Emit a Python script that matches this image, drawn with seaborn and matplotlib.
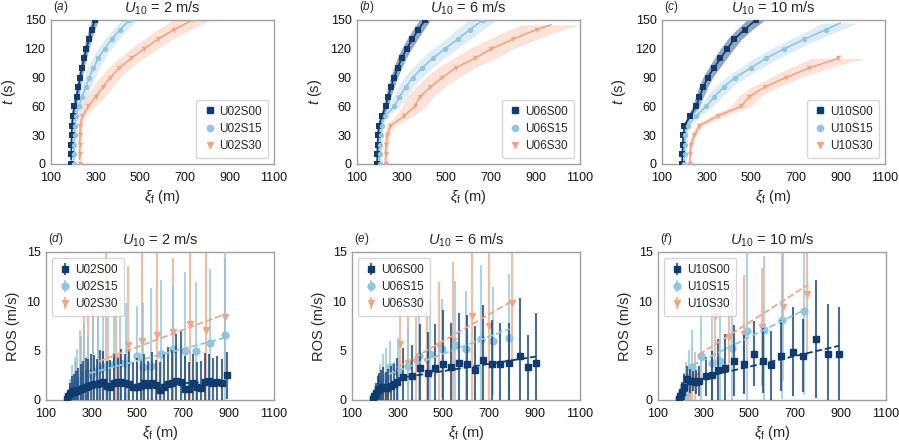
import numpy as np
import pandas as pd
import seaborn as sns
import matplotlib.pyplot as plt
from matplotlib.lines import Line2D

# ---- colours / names ----
colors = ["#0f3b6f", "#92c5de", "#f4a582"]
markers = ["s", "o", "v"]
winds = [2, 6, 10]
cases = [["U02S00", "U02S15", "U02S30"],
         ["U06S00", "U06S15", "U06S30"],
         ["U10S00", "U10S15", "U10S30"]]

# ---- top row: front position vs time (mean and spread) ----
t16 = [0, 10, 20, 30, 40, 50, 60, 70, 80, 90, 100, 110, 120, 130, 140, 150]

a00_t = t16
a00_x = [190, 190, 191, 192, 194, 197, 205, 215, 222, 230, 238, 248, 258, 270, 282, 298]
a00_w = [3, 3, 3, 4, 5, 6, 8, 9, 9, 10, 10, 11, 12, 13, 14, 16]
a15_t = t16
a15_x = [203, 203, 204, 206, 208, 212, 225, 240, 255, 272, 290, 312, 340, 372, 410, 452]
a15_w = [5, 5, 5, 6, 7, 10, 18, 25, 25, 26, 27, 28, 30, 32, 32, 35]
a30_t = t16
a30_x = [228, 228, 229, 230, 231, 240, 268, 300, 332, 365, 405, 460, 518, 580, 652, 734]
a30_w = [8, 8, 8, 8, 10, 15, 30, 40, 45, 48, 50, 55, 60, 65, 75, 85]

b00_t = t16
b00_x = [190, 191, 192, 194, 197, 212, 228, 240, 252, 266, 282, 300, 322, 348, 375, 405]
b00_w = [3, 3, 4, 4, 5, 8, 12, 12, 14, 16, 18, 20, 22, 24, 25, 25]
b15_t = t16
b15_x = [202, 203, 204, 206, 210, 225, 268, 290, 318, 350, 392, 440, 494, 552, 606, 665]
b15_w = [5, 5, 6, 6, 8, 12, 25, 30, 35, 40, 45, 50, 55, 55, 60, 60]
b30_t = [0, 10, 20, 30, 40, 50, 60, 70, 80, 90, 100, 110, 120, 130, 140, 145]
b30_x = [228, 229, 230, 235, 250, 312, 358, 382, 428, 482, 542, 628, 703, 800, 905, 970]
b30_w = [8, 8, 10, 12, 20, 40, 55, 60, 65, 75, 85, 95, 100, 110, 120, 130]

c00_t = t16
c00_x = [190, 191, 193, 195, 200, 225, 252, 268, 285, 305, 333, 362, 392, 425, 470, 520]
c00_w = [3, 3, 4, 5, 6, 10, 15, 18, 20, 22, 25, 28, 30, 32, 35, 40]
c15_t = [0, 10, 20, 30, 40, 50, 60, 70, 80, 90, 100, 110, 120, 130, 140, 147]
c15_x = [200, 201, 203, 205, 215, 252, 298, 335, 376, 428, 498, 566, 648, 738, 835, 900]
c15_w = [5, 5, 6, 7, 10, 20, 30, 35, 40, 45, 50, 55, 60, 65, 70, 80]
c30_t = [0, 10, 20, 30, 40, 50, 60, 70, 80, 90, 100, 110]
c30_x = [225, 226, 228, 245, 268, 350, 455, 490, 560, 655, 760, 890]
c30_w = [6, 6, 8, 12, 15, 35, 45, 50, 60, 70, 90, 120]

# ---- bottom row: rate of spread vs front position ----
d00_x = [190, 198, 206, 214, 223, 232, 242, 252, 263, 274, 286, 298, 311, 324, 338, 352,
         367, 382, 398, 414, 430, 447, 464, 481, 498, 515, 532, 549, 566, 583, 600, 618,
         636, 654, 672, 690, 708, 726, 744, 762, 780, 798, 816, 834, 852, 870, 895]
d00_v = [0.1, 0.4, 0.7, 0.9, 0.8, 0.9, 1.0, 1.1, 1.2, 1.3, 1.4, 1.5, 1.6, 1.6, 1.7, 1.8,
         1.4, 1.3, 1.7, 1.8, 1.8, 1.7, 1.6, 1.3, 1.3, 1.4, 1.7, 1.5, 1.7, 1.5, 1.0, 1.3,
         1.6, 1.7, 1.9, 1.8, 1.1, 1.1, 1.7, 1.3, 1.2, 1.8, 1.9, 1.7, 1.8, 1.7, 2.5]
d00_e = [0.2, 0.6, 1.0, 1.5, 1.8, 2.0, 2.2, 2.5, 2.8, 3.0, 2.8, 3.2, 3.0, 2.6, 3.4, 3.2,
         2.6, 2.8, 3.0, 2.5, 3.4, 3.0, 3.6, 2.6, 3.0, 2.8, 3.0, 2.5, 3.2, 2.6, 2.9, 3.4,
         3.8, 3.4, 4.8, 5.2, 3.4, 2.8, 3.0, 2.6, 2.8, 3.0, 2.8, 2.6, 2.7, 2.5, 2.4]
d15_x = [196, 205, 215, 226, 238, 252, 268, 286, 305, 326, 348, 372, 398, 424, 452, 497,
         525, 560, 605, 658, 710, 760, 818, 884]
d15_v = [0.3, 0.6, 1.0, 1.4, 1.7, 2.0, 2.2, 2.5, 2.7, 3.0, 3.3, 3.5, 3.6, 3.7, 3.8, 4.5,
         3.3, 3.4, 4.7, 5.2, 5.0, 5.0, 5.8, 6.6]
d15_e = [0.5, 1.5, 2.5, 3.0, 3.5, 4.5, 5.5, 4.0, 6.0, 5.5, 7.5, 6.0, 5.0, 6.5, 6.0, 5.0,
         6.5, 8.0, 7.5, 6.5, 8.0, 7.0, 7.5, 8.5]
d30_x = [215, 232, 250, 268, 285, 305, 330, 365, 405, 460, 522, 585, 655, 730, 800, 885]
d30_v = [0.3, 0.9, 1.6, 2.5, 2.7, 2.8, 2.9, 3.2, 4.2, 5.6, 6.0, 6.6, 6.9, 7.7, 7.1, 8.4]
d30_e = [0.8, 3.0, 5.5, 6.0, 6.0, 7.0, 5.5, 12.5, 6.5, 8.0, 10.0, 9.5, 7.5, 9.0, 10.0, 6.0]

e00_x = [190, 197, 204, 212, 220, 229, 238, 248, 258, 270, 283, 297, 325, 365, 400, 432,
         465, 500, 535, 570, 605, 640, 675, 715, 750, 790, 835, 870, 905]
e00_v = [0.1, 0.4, 0.7, 1.0, 1.1, 1.2, 1.3, 1.2, 1.3, 1.4, 1.6, 1.8, 2.3, 2.4, 3.2, 2.7,
         3.2, 3.6, 3.3, 3.8, 3.6, 3.0, 4.1, 3.6, 3.6, 3.8, 4.5, 3.3, 3.8]
e00_e = [0.2, 0.6, 1.0, 1.4, 1.6, 1.8, 2.0, 1.6, 1.8, 2.0, 2.2, 2.5, 3.0, 3.2, 4.5, 4.2,
         4.5, 5.5, 4.5, 5.0, 5.0, 4.5, 5.5, 4.5, 4.2, 4.0, 5.8, 3.3, 5.0]
e15_x = [194, 202, 212, 222, 234, 248, 268, 300, 345, 395, 440, 495, 550, 600, 665, 720, 790]
e15_v = [0.2, 0.5, 0.9, 1.4, 1.9, 2.3, 3.3, 2.8, 3.4, 4.5, 4.7, 5.2, 5.6, 5.2, 6.2, 6.0, 6.3]
e15_e = [0.4, 1.0, 1.6, 2.2, 2.8, 3.0, 2.7, 3.5, 4.0, 4.5, 5.5, 5.0, 6.5, 5.8, 7.5, 5.5, 6.5]
e30_x = [222, 232, 244, 256, 312, 345, 380, 430, 480, 545, 625, 700, 800]
e30_v = [0.3, 0.7, 1.1, 1.3, 5.7, 3.8, 3.9, 4.0, 5.5, 6.0, 8.5, 7.5, 9.8]
e30_e = [0.6, 1.2, 1.6, 1.8, 3.5, 5.0, 4.5, 5.5, 6.5, 8.0, 8.5, 8.0, 6.5]

f00_x = [190, 197, 205, 215, 228, 242, 255, 268, 280, 310, 335, 362, 395, 435, 475, 520,
         560, 595, 640, 690, 735, 795, 845, 895]
f00_v = [0.1, 0.4, 0.8, 1.3, 2.1, 1.9, 1.9, 1.8, 1.9, 2.4, 2.5, 3.0, 3.2, 4.0, 3.6, 4.7,
         4.0, 3.5, 4.5, 4.9, 4.5, 6.2, 4.7, 4.7]
f00_e = [0.2, 0.6, 1.0, 1.3, 1.3, 1.2, 1.0, 1.2, 1.5, 2.0, 2.5, 3.2, 3.5, 3.6, 3.0, 3.3,
         3.3, 3.5, 3.6, 4.5, 3.7, 6.0, 5.0, 4.7]
f15_x = [194, 202, 212, 224, 236, 250, 290, 335, 370, 425, 490, 565, 645, 740]
f15_v = [0.2, 0.6, 1.1, 1.7, 2.3, 3.3, 4.5, 3.7, 4.0, 5.3, 7.0, 7.1, 8.1, 9.0]
f15_e = [0.4, 1.0, 1.6, 2.2, 2.8, 3.8, 5.5, 6.0, 5.5, 6.5, 9.0, 7.5, 8.0, 8.5]
f30_x = [222, 234, 246, 262, 350, 410, 475, 555, 650, 755]
f30_v = [0.3, 0.8, 1.4, 2.4, 8.5, 6.4, 6.7, 7.4, 9.4, 10.7]
f30_e = [0.5, 1.0, 1.5, 2.5, 4.5, 3.5, 6.0, 6.0, 7.5, 6.2]

# linear fits (end points)
d_fit = [([280, 890], [1.3, 1.9]), ([290, 885], [2.7, 6.3]), ([330, 885], [3.9, 8.7])]
e_fit = [([300, 905], [2.2, 4.4]), ([260, 790], [2.6, 7.2]), ([300, 800], [3.3, 10.0])]
f_fit = [([300, 895], [2.3, 5.5]), ([250, 740], [3.5, 9.1]), ([280, 760], [4.6, 11.7])]

top_data = [
    [(a00_t, a00_x, a00_w), (a15_t, a15_x, a15_w), (a30_t, a30_x, a30_w)],
    [(b00_t, b00_x, b00_w), (b15_t, b15_x, b15_w), (b30_t, b30_x, b30_w)],
    [(c00_t, c00_x, c00_w), (c15_t, c15_x, c15_w), (c30_t, c30_x, c30_w)],
]
bot_data = [
    [(d00_x, d00_v, d00_e), (d15_x, d15_v, d15_e), (d30_x, d30_v, d30_e)],
    [(e00_x, e00_v, e00_e), (e15_x, e15_v, e15_e), (e30_x, e30_v, e30_e)],
    [(f00_x, f00_v, f00_e), (f15_x, f15_v, f15_e), (f30_x, f30_v, f30_e)],
]
fits = [d_fit, e_fit, f_fit]

sns.set_theme(style="white")
plt.rcParams['font.family'] = ['Liberation Sans', 'DejaVu Sans']
plt.rcParams['mathtext.fontset'] = 'custom'
plt.rcParams['mathtext.rm'] = 'Liberation Sans'
plt.rcParams['mathtext.it'] = 'Liberation Sans:italic'
plt.rcParams['mathtext.bf'] = 'Liberation Sans:bold'

W, H = 899, 443
fig = plt.figure(figsize=(W / 100, H / 100), dpi=100)

top_left = [51, 357, 662]
bot_left = [46, 352, 658]


def style_axes(ax):
    for s in ax.spines.values():
        s.set_color("#a0a0a0")
        s.set_linewidth(1.0)
    ax.tick_params(direction="in", length=2.5, width=0.8, color="#a0a0a0",
                   labelsize=9, labelcolor="#111111")
    ax.tick_params(axis="x", pad=6)
    ax.tick_params(axis="y", pad=4)
    ax.set_xlim(100, 1100)
    ax.set_xticks([100, 300, 500, 700, 900, 1100])
    ax.set_xlabel(r"$\xi_{\mathrm{f}}$ (m)", fontsize=10.5, labelpad=3)


labels = ["a", "b", "c", "d", "e", "f"]

for i in range(3):
    # ---- top panels ----
    ax = fig.add_axes([top_left[i] / W, 1 - 164 / H, 223 / W, 144 / H])
    for j in range(3):
        t, x, w = top_data[i][j]
        x = np.array(x, float)
        w = np.array(w, float)
        ax.fill_betweenx(t, x - w, x + w, color=colors[j], alpha=0.3 if j else 0.45,
                         linewidth=0)
    handles = []
    for j in range(3):
        t, x, w = top_data[i][j]
        df = pd.DataFrame({"t": t, "x": x})
        sns.lineplot(data=df, x="x", y="t", sort=False, color=colors[j], lw=1.2,
                     ax=ax, legend=False)
        dm = df[df["t"] % 10 == 0]
        sns.scatterplot(data=dm, x="x", y="t", marker=markers[j], color=colors[j],
                        s=15, linewidth=0, ax=ax, legend=False, zorder=3)
        handles.append(Line2D([], [], ls="none", marker=markers[j], color=colors[j],
                              ms=4.5, label=cases[i][j]))
    style_axes(ax)
    ax.set_ylim(0, 150)
    ax.set_yticks([0, 30, 60, 90, 120, 150])
    ax.set_ylabel(r"$t$ (s)", fontsize=10.5, labelpad=5)
    ax.set_title(r"$U_{10}$ = %d m/s" % winds[i], fontsize=10.5, pad=5)
    ax.text(0.01, 1.035, r"($\mathit{%s}$)" % labels[i], transform=ax.transAxes,
            fontsize=8.5, ha="left", va="bottom")
    leg = ax.legend(handles=handles, loc="lower right", fontsize=8.5,
                    frameon=True, handletextpad=0.2, borderpad=0.5,
                    handlelength=1.3, labelspacing=0.45)
    leg.get_frame().set_edgecolor("#cccccc")

    # ---- bottom panels ----
    ax = fig.add_axes([bot_left[i] / W, 1 - 400 / H, 228 / W, 148 / H])
    conts = [None, None, None]
    for j in [2, 1, 0]:
        x, v, e = bot_data[i][j]
        v = np.array(v, float)
        e = np.array(e, float)
        conts[j] = ax.errorbar(x, v, yerr=[np.minimum(e, v), e], fmt=markers[j],
                               color=colors[j], ms=5, ecolor=colors[j],
                               elinewidth=1.5, capsize=0,
                               label=cases[i][j], zorder=2 + (2 - j))
        for bar in conts[j][2]:
            bar.set_alpha(0.75)
    for j in [2, 1, 0]:
        fx, fy = fits[i][j]
        sns.lineplot(x=fx, y=fy, color=colors[j], lw=1.3, linestyle="--",
                     ax=ax, legend=False, zorder=6)
    style_axes(ax)
    ax.set_ylim(0, 15)
    ax.set_yticks([0, 5, 10, 15])
    ax.set_ylabel("ROS (m/s)", fontsize=10.5, labelpad=5)
    ax.set_title(r"$U_{10}$ = %d m/s" % winds[i], fontsize=10.5, pad=5)
    ax.text(0.01, 1.035, r"($\mathit{%s}$)" % labels[i + 3], transform=ax.transAxes,
            fontsize=8.5, ha="left", va="bottom")
    leg = ax.legend(handles=conts, loc="upper left", fontsize=8.5, frameon=True,
                    handletextpad=0.2, borderpad=0.5, handlelength=1.3,
                    labelspacing=0.45)
    leg.get_frame().set_edgecolor("#cccccc")

fig.savefig("out.png", dpi=100)
